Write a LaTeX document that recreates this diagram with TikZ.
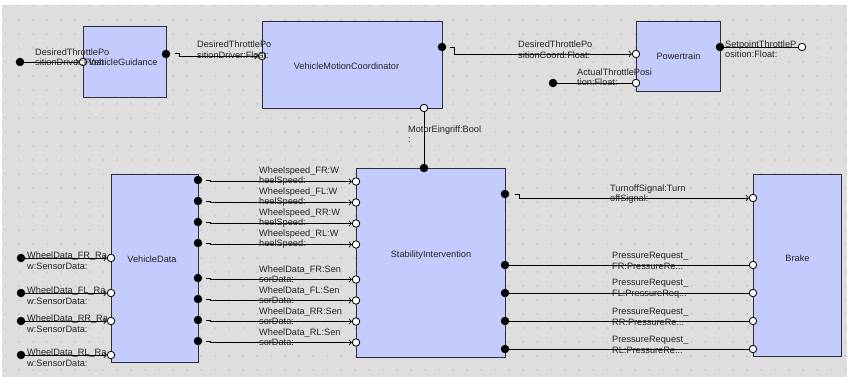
\documentclass[tikz,border=0pt]{standalone}
\usepackage{fontspec}
\setmainfont{Liberation Sans}
\usetikzlibrary{arrows.meta,calc}
\definecolor{bg}{RGB}{222,222,222}
\definecolor{gdot}{RGB}{196,196,196}
\definecolor{boxfill}{RGB}{196,204,254}
\definecolor{boxline}{RGB}{45,45,55}
\definecolor{lbltxt}{RGB}{35,35,35}
\begin{document}
\begin{tikzpicture}[x=1pt,y=-1pt,
  block/.style={draw=boxline, fill=boxfill, line width=1pt, inner sep=0, anchor=north west},
  odot/.style={circle, fill=black, inner sep=0, minimum size=8.5pt},
  idot/.style={circle, draw=black, fill=white, line width=0.8pt, inner sep=0, minimum size=7.5pt},
  conn/.style={draw=black, line width=0.7pt},
  arr/.style={conn, -{Straight Barb[length=2.5pt,width=5.5pt,line width=0.6pt]}},
  lbl/.style={font=\fontsize{9.2}{10.5}\selectfont, align=left, inner sep=0, anchor=west, text=lbltxt},
  btxt/.style={font=\fontsize{9.2}{10.5}\selectfont, inner sep=0, text=lbltxt}
]
\useasboundingbox (0,0) rectangle (847,377);
\fill[white] (0,0) rectangle (847,377);
\fill[bg] (2,5) rectangle (847,377);
\foreach \i in {0,...,60} {\foreach \j in {0,...,26} {\fill[gdot] (5+14*\i, 6+14*\j) circle (1);}}

% blocks
\node[block, minimum width=83pt, minimum height=71pt] (vg) at (83,26) {};
\node[block, minimum width=180pt, minimum height=87pt] (vmc) at (262,21) {};
\node[block, minimum width=84pt, minimum height=70pt] (pt) at (636,21) {};
\node[block, minimum width=87pt, minimum height=188pt] (vd) at (111,174) {};
\node[block, minimum width=149pt, minimum height=189pt] (si) at (356,168) {};
\node[block, minimum width=88pt, minimum height=182pt] (br) at (753,174) {};

% block titles
\node[btxt] (vgT) at ($(vg.center)+(-2,0)$) {VehicleGuidance};
\node[btxt] (vmcT) at ($(vmc.center)+(-6,1)$) {VehicleMotionCoordinator};
\node[btxt] (ptT) at (pt.center) {Powertrain};
\node[btxt] (vdT) at ($(vd.center)+(-3,-9)$) {VehicleData};
\node[btxt] (siT) at ($(si.center)+(0,-7.5)$) {StabilityIntervention};
\node[btxt] (brT) at ($(br.center)+(0,-7)$) {Brake};

% ports
\node[odot] (vgx) at (20,62) {};
\node[idot] (vgi) at (83,62) {};
\node[odot] (vgo) at (166,54) {};
\node[idot] (vmci) at (262,56) {};
\node[odot] (vmco) at (442,47) {};
\node[idot] (vmcb) at (424,108) {};
\node[idot] (pti1) at (636,54) {};
\node[idot] (pti2) at (636,83) {};
\node[odot] (ptx) at (553,83) {};
\node[odot] (pto) at (720,47) {};
\node[idot] (ptox) at (802,47) {};
\node[odot] (sit) at (424,168) {};

\foreach \n/\y in {1/180,2/201,3/222,4/243,5/278,6/299,7/320,8/341} {
  \node[odot] (vdo\n) at (198,\y) {};
  \node[idot] (sii\n) at (356,\y+1.5) {};
}
\foreach \n/\y in {1/258,2/293,3/321,4/355} {
  \node[odot] (vdx\n) at (21,\y) {};
  \node[idot] (vdi\n) at (111,\y) {};
}
\node[odot] (sio0) at (505,194) {};
\node[idot] (bri0) at (753,198) {};
\foreach \n/\y in {1/265,2/293,3/321,4/349} {
  \node[odot] (sio\n) at (505,\y) {};
  \node[idot] (bri\n) at (753,\y) {};
}

% connectors
\draw[arr] (vgx.east) -- (vgi.west);
\draw[arr] ($(vgo.east)+(5,-1)$) -- ++(4,0) |- (vmci.west);
\draw[arr] ($(vmco.east)+(4,0)$) -- ++(4,0) |- (pti1.west);
\draw[conn] (ptx.east) -- (pti2.west);
\draw[conn] (pto.east) -- (ptox.west);
\draw[conn] (vmcb.south) -- (sit.north);
\foreach \n in {1,...,8} {
  \draw[arr] ($(vdo\n.east)+(4,0)$) -- ++(4,0) |- (sii\n.west);
}
\foreach \n in {1,...,4} {
  \draw[arr] (vdx\n.east) -- (vdi\n.west);
  \draw[conn] (sio\n.east) -- (bri\n.west);
}
\draw[arr] ($(sio0.east)+(6,0)$) -- ++(4,0) |- (bri0.west);

% connector labels
\node[lbl] (l1) at (35,57) {DesiredThrottlePo\\sitionDriver:Float:};
\node[lbl] (l2) at (197,49.5) {DesiredThrottlePo\\sitionDriver:Float:};
\node[lbl] (l3) at (518,49.5) {DesiredThrottlePo\\sitionCoord:Float:};
\node[lbl] (l4) at (577,77) {ActualThrottlePosi\\tion:Float:};
\node[lbl] (l5) at (725,49) {SetpointThrottleP\\osition:Float:};
\node[lbl] (l6) at (408,134) {MotorEingriff:Bool\\:};
\foreach \n/\y/\t in {1/180/Wheelspeed\_FR:W,2/201/Wheelspeed\_FL:W,3/222/Wheelspeed\_RR:W,4/243/Wheelspeed\_RL:W} {
  \node[lbl] (ws\n) at (259,\y-4) {\t\\heelSpeed:};
}
\foreach \n/\y/\t in {5/278/WheelData\_FR:Sen,6/299/WheelData\_FL:Sen,7/320/WheelData\_RR:Sen,8/341/WheelData\_RL:Sen} {
  \node[lbl] (ws\n) at (259,\y-4) {\t\\sorData:};
}
\foreach \n/\y/\t in {1/258/FR,2/293/FL,3/321/RR,4/355/RL} {
  \node[lbl] (wd\n) at (27,\y+2.5) {WheelData\_\t\_Ra\\w:SensorData:};
}
\node[lbl] (ts) at (610,194) {TurnoffSignal:Turn\\offSignal:};
\node[lbl] (pr1) at (612,261) {PressureRequest\_\\FR:PressureRe...};
\node[lbl] (pr2) at (612,289) {PressureRequest\_\\FL:PressureReq...};
\node[lbl] (pr3) at (612,317) {PressureRequest\_\\RR:PressureRe...};
\node[lbl] (pr4) at (612,345) {PressureRequest\_\\RL:PressureRe...};
\end{tikzpicture}
\end{document}
